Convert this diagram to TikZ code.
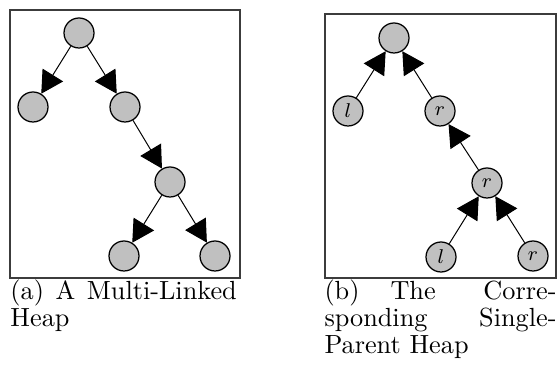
\documentclass[tikz,border=0pt]{standalone}
\usetikzlibrary{arrows.meta}
\definecolor{nodegray}{RGB}{192,192,192}
\definecolor{framegray}{RGB}{60,60,60}
\tikzset{
  heapnode/.style={circle, draw=black, fill=nodegray, line width=0.5pt,
    minimum size=12pt, inner sep=0pt, font=\footnotesize},
  link/.style={line width=0.4pt, -{Triangle[length=8.8pt,width=9.6pt]}},
  frame/.style={draw=framegray, line width=0.6pt},
  captionline/.style={anchor=base west, inner sep=0pt, font=\fontsize{10.5}{11.5}\selectfont}
}
\begin{document}
\begin{tikzpicture}[x=0.4pt, y=-0.4pt]
\useasboundingbox (0,0) rectangle (558,377);

% frames
\draw[frame] (10,10) rectangle (240,278);
\draw[frame] (325,14) rectangle (556,278);

% multi-linked heap
\node[heapnode] (a0) at (79,33) {};
\node[heapnode] (a1) at (33,107) {};
\node[heapnode] (a2) at (125,107) {};
\node[heapnode] (a3) at (170,182) {};
\node[heapnode] (a4) at (124,256) {};
\node[heapnode] (a5) at (215,256) {};
\draw[link] (a0) -- (a1);
\draw[link] (a0) -- (a2);
\draw[link] (a2) -- (a3);
\draw[link] (a3) -- (a4);
\draw[link] (a3) -- (a5);

% single-parent heap
\node[heapnode] (b0) at (394,38) {};
\node[heapnode] (b1) at (348,111) {$l$};
\node[heapnode] (b2) at (440,111) {$r$};
\node[heapnode] (b3) at (487,183) {$r$};
\node[heapnode] (b4) at (441,257) {$l$};
\node[heapnode] (b5) at (533,256) {$r$};
\draw[link] (b1) -- (b0);
\draw[link] (b2) -- (b0);
\draw[link] (b3) -- (b2);
\draw[link] (b4) -- (b3);
\draw[link] (b5) -- (b3);

% captions
\node[captionline] (ca1) at (10,300) {\hbox to 90.5pt{(a) A Multi-Linked}};
\node[captionline] (ca2) at (10,327) {Heap};
\node[captionline] (cb1) at (324,300) {\hbox to 92.8pt{(b)\hspace{12.4pt}The\hfill Corre-}};
\node[captionline] (cb2) at (324,327) {\hbox to 92.8pt{sponding\hfill Single-}};
\node[captionline] (cb3) at (324,354) {Parent Heap};
\end{tikzpicture}
\end{document}
